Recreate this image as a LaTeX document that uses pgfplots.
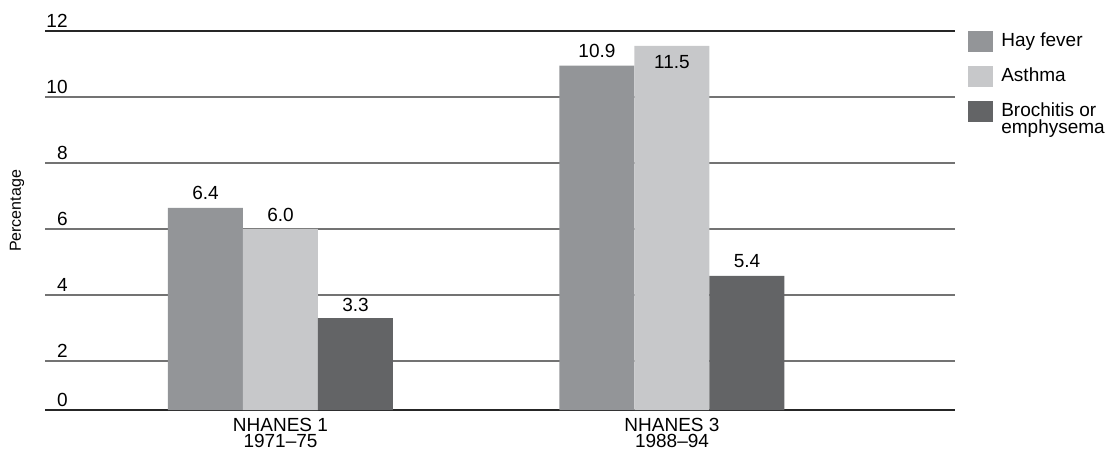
\documentclass[border=0pt]{standalone}
\usepackage{fontspec}
\setmainfont{Liberation Sans}
\usepackage{pgfplots}
\usepackage{pgfplotstable}
\pgfplotsset{compat=1.18}
\definecolor{hay}{RGB}{147,149,152}
\definecolor{ast}{RGB}{199,200,202}
\definecolor{bro}{RGB}{99,100,102}
\pgfplotstableread{
x y label dy
0 6.64 6.4 3.75
1 10.95 10.9 3.75
}\hay
\pgfplotstableread{
x y label dy
0 6.0 6.0 3.6
1 11.55 11.5 -11.8
}\ast
\pgfplotstableread{
x y label dy
0 3.3 3.3 3.0
1 4.58 5.4 3.75
}\bro
\begin{document}
\begin{tikzpicture}
\path[use as bounding box] (0,0) rectangle (552.5pt,225.5pt);
\begin{axis}[
  at={(22.5pt,20.5pt)}, anchor=south west,
  scale only axis, width=455pt, height=189.5pt,
  xmin=-0.6015, xmax=1.7229,
  ymin=0.515, ymax=12,
  ytick={2,4,6,8,10},
  yticklabels={2,4,6,8,10},
  extra y ticks={0.515,12},
  extra y tick labels={0,12},
  extra y tick style={grid style={black!85, line width=0.7pt}},
  xtick={0,1},
  xticklabels={{NHANES 1\\1971--75},{NHANES 3\\1988--94}},
  axis line style={draw=none},
  major tick length=0pt,
  ymajorgrids,
  grid style={black!55, line width=0.65pt},
  yticklabel style={anchor=south east, inner sep=0pt, xshift=11.5pt, yshift=1.5pt, font=\fontsize{9.5}{10}\selectfont},
  xticklabel style={align=center, anchor=north, inner sep=0pt, yshift=-3.85pt, font=\fontsize{9.5}{8.25}\selectfont},
  ybar=0pt, bar width=37.5pt,
  legend image code/.code={\fill[#1] (0pt,-2.5pt) rectangle (12.5pt,7.85pt);},
  legend style={at={(1,1)}, anchor=north west, xshift=6.5pt, draw=none, fill=none,
    inner sep=0pt, outer sep=0pt, row sep=7.15pt, column sep=4.15pt,
    cells={anchor=base west}, nodes={inner sep=0pt, font=\fontsize{9.5}{10}\selectfont}},
  point meta=explicit symbolic,
  nodes near coords,
  visualization depends on={\thisrow{dy} \as \dy},
  every node near coord/.append style={anchor=south, inner sep=0pt, yshift=\dy pt, font=\fontsize{9.5}{10}\selectfont, text=black},
]
\addplot[fill=hay, draw=none] table[x=x, y=y, meta=label] {\hay};
\addplot[fill=ast, draw=none] table[x=x, y=y, meta=label] {\ast};
\addplot[fill=bro, draw=none] table[x=x, y=y, meta=label] {\bro};
\legend{Hay fever, Asthma, {\smash{\vtop{\baselineskip=8.5pt\hbox{Brochitis or}\hbox{emphysema}}}}}
\end{axis}
\node[rotate=90, font=\fontsize{8}{9}\selectfont] at (8.5pt,120pt) {Percentage};
\end{tikzpicture}
\end{document}
